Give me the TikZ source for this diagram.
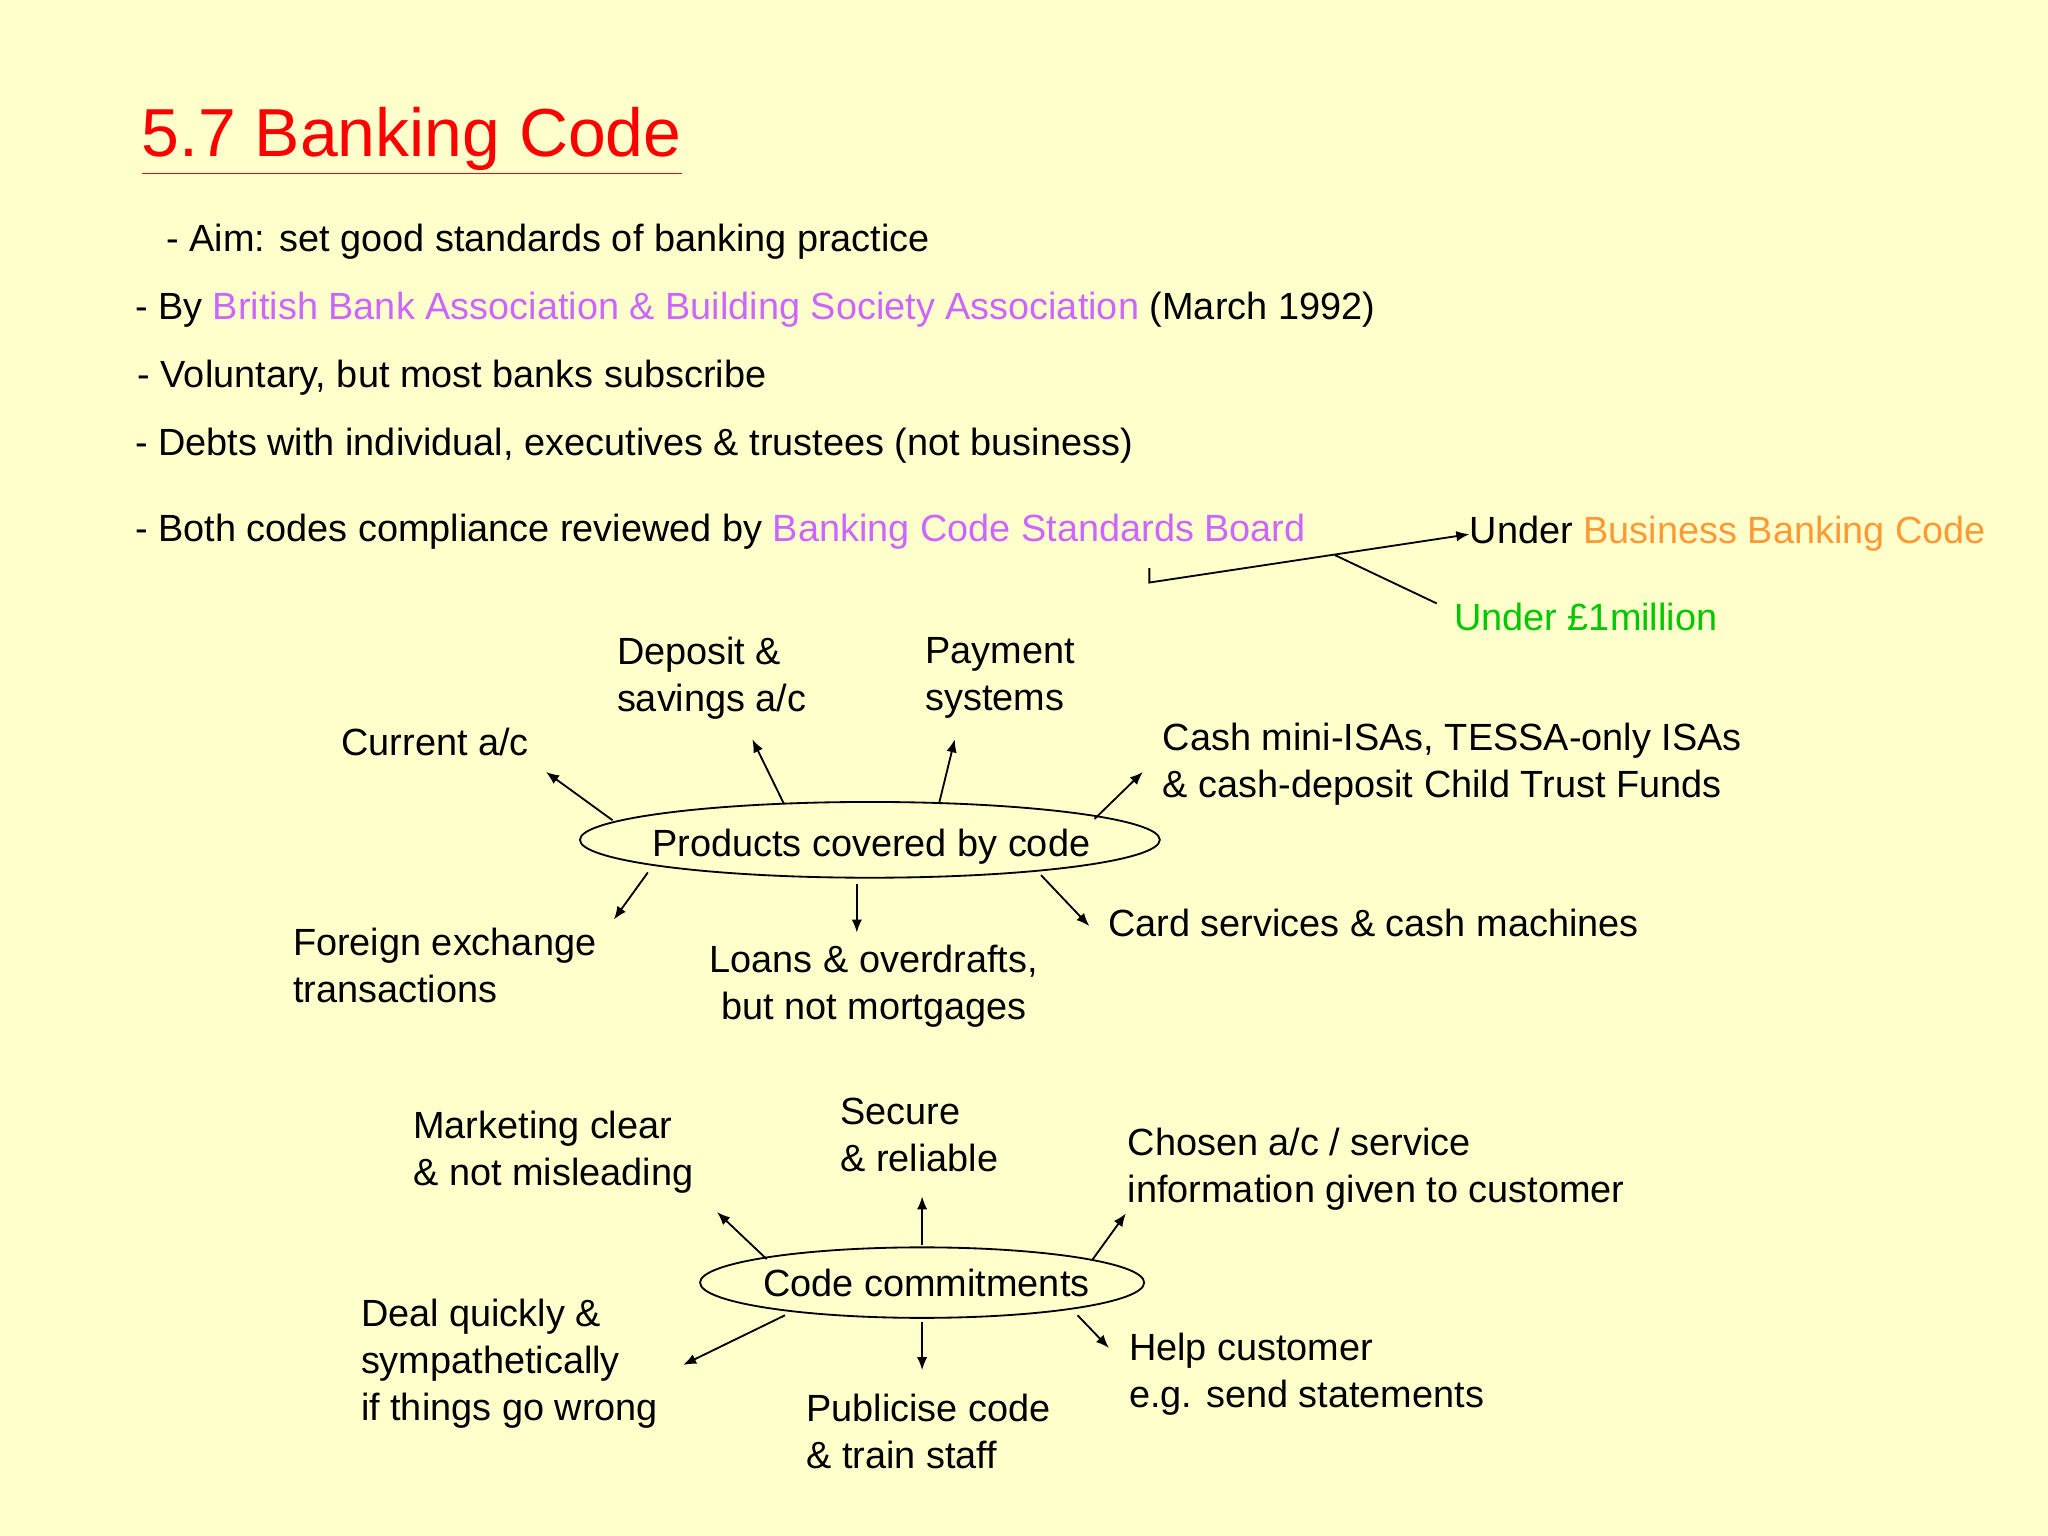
\documentclass[tikz,border=0pt]{standalone}
\usepackage{fontspec}
\setmainfont{Liberation Sans}
\usetikzlibrary{arrows.meta}
\definecolor{bg}{HTML}{FFFFCC}
\definecolor{purp}{HTML}{CC66FF}
\definecolor{orng}{HTML}{FF9933}
\definecolor{grn}{HTML}{00C800}
\begin{document}
\begin{tikzpicture}[x=0.5pt,y=-0.5pt,
  txt/.style={anchor=west,inner sep=0pt,align=left,font=\fontsize{14.5}{18}\selectfont},
  arr/.style={-{Latex[length=5pt,width=4pt]},line width=0.7pt},
  ln/.style={line width=0.7pt},
  ell/.style={draw,line width=0.7pt}]
\fill[bg] (0,0) rectangle (1568,1176);
\useasboundingbox (0,0) rectangle (1568,1176);
\node[txt,font=\fontsize{26}{30}\selectfont,text=red] (title) at (108,108) {\underline{5.7 Banking Code}};
\node[txt] (l1) at (127,185) {- Aim: set good standards of banking practice};
\node[txt] (l2) at (103,237) {- By \textcolor{purp}{British Bank Association \& Building Society Association} (March 1992)};
\node[txt] (l3) at (105,289) {- Voluntary, but most banks subscribe};
\node[txt] (l4) at (103,341) {- Debts with individual, executives \& trustees (not business)};
\node[txt] (l5) at (103,407) {- Both codes compliance reviewed by \textcolor{purp}{Banking Code Standards Board}};
\node[txt] (ubb) at (1125,409) {Under \textcolor{orng}{Business Banking Code}};
\node[txt,text=grn] (um) at (1113,472) {Under £1million};
\coordinate (c1) at (880,435);
\coordinate (c2) at (880,446);
\coordinate (c3) at (1022,425);
\coordinate (c4) at (1100,462);
\draw[arr] (c1) -- (c2) -- (ubb.west);
\draw[ln] (c3) -- (c4);

\draw[ell] (666,643) ellipse [x radius=222,y radius=29];
\node[txt] (prod) at (499,648) {Products covered by code};
\node[txt] (cur) at (261,568) {Current a/c};
\node[txt] (dep) at (472,519) {Deposit \&\\savings a/c};
\node[txt] (pay) at (708,519) {Payment\\systems};
\node[txt] (cash) at (890,585) {Cash mini-ISAs, TESSA-only ISAs\\\& cash-deposit Child Trust Funds};
\node[txt] (card) at (848,707) {Card services \& cash machines};
\node[txt,align=center,anchor=center] (loan) at (669,755) {Loans \& overdrafts,\\but not mortgages};
\node[txt] (fx) at (224,739) {Foreign exchange\\transactions};
\coordinate (p1) at (469,628); \coordinate (q1) at (418,591);
\coordinate (p2) at (600,615); \coordinate (q2) at (576,566);
\coordinate (p3) at (719,615); \coordinate (q3) at (731,566);
\coordinate (p4) at (838,627); \coordinate (q4) at (875,591);
\coordinate (p5) at (797,670); \coordinate (q5) at (834,709);
\coordinate (p6) at (656,677); \coordinate (q6) at (656,714);
\coordinate (p7) at (496,668); \coordinate (q7) at (470,704);
\foreach \i in {1,...,7} \draw[arr] (p\i) -- (q\i);

\draw[ell] (706,982) ellipse [x radius=170,y radius=27];
\node[txt] (cc) at (584,982) {Code commitments};
\node[txt] (mk) at (316,882) {Marketing clear\\\& not misleading};
\node[txt] (sec) at (643,869) {Secure\\\& reliable};
\node[txt] (cho) at (863,895) {Chosen a/c / service\\information given to customer};
\node[txt] (help) at (864,1052) {Help customer\\e.g. send statements};
\node[txt] (pub) at (617,1096) {Publicise code\\\& train staff};
\node[txt] (deal) at (276,1044) {Deal quickly \&\\sympathetically\\if things go wrong};
\coordinate (r1) at (587,964); \coordinate (s1) at (549,928);
\coordinate (r2) at (706,953); \coordinate (s2) at (706,916);
\coordinate (r3) at (836,965); \coordinate (s3) at (862,929);
\coordinate (r4) at (825,1007); \coordinate (s4) at (849,1032);
\coordinate (r5) at (706,1012); \coordinate (s5) at (706,1049);
\coordinate (r6) at (601,1007); \coordinate (s6) at (523,1045);
\foreach \i in {1,...,6} \draw[arr] (r\i) -- (s\i);
\end{tikzpicture}
\end{document}
